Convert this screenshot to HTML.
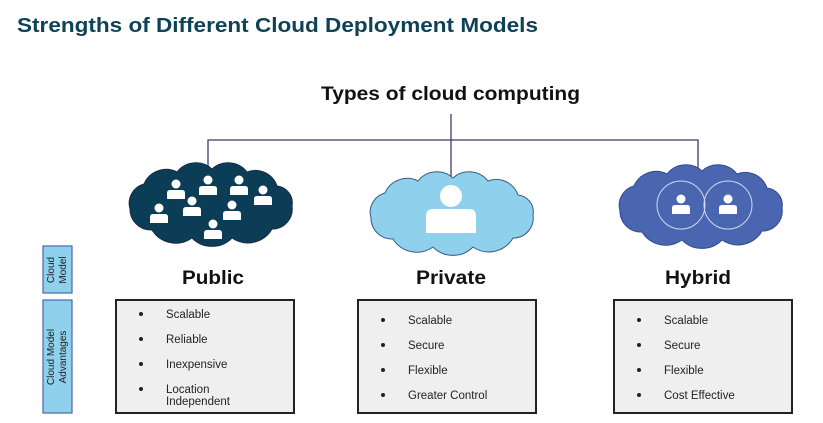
<!DOCTYPE html>
<html><head><meta charset="utf-8"><style>
body{margin:0;background:#fff;}
svg{display:block;font-family:"Liberation Sans",sans-serif;}
</style></head><body>
<svg width="823" height="423" viewBox="0 0 823 423">
<defs>
<path id="cs" d="M8,45 A20,20 0 0 1 22,20 A24,24 0 0 1 55,8 A24,24 0 0 1 90,5 A24,24 0 0 1 125,8 A23,23 0 0 1 155,22 A17,17 0 0 1 170,42 A20,20 0 0 1 150,65 A28,28 0 0 1 110,74 A28,28 0 0 1 70,74 A28,28 0 0 1 30,66 A21,21 0 0 1 8,45 Z"/>
<g id="person"><circle cx="0" cy="-6" r="4.5" fill="#fff"/><path d="M-9,9 L-9,3 Q-9,0 -6,0 L6,0 Q9,0 9,3 L9,9 Z" fill="#fff"/></g>
</defs>
<text x="17" y="32" font-size="20" font-weight="bold" fill="#0f4259" textLength="521" lengthAdjust="spacingAndGlyphs">Strengths of Different Cloud Deployment Models</text>
<text x="321" y="100" font-size="19" font-weight="bold" fill="#111" textLength="259" lengthAdjust="spacingAndGlyphs">Types of cloud computing</text>
<g stroke="#3a3a6a" stroke-width="1.3" fill="none">
<path d="M451,114 V180"/><path d="M208,172 V140 H698 V170"/>
</g>
<!-- public -->
<g transform="translate(122,164)"><use href="#cs" fill="#0b3d57" stroke="#1a2a44" stroke-width="1"/></g>
<use href="#person" x="176" y="190"/><use href="#person" x="208" y="186"/><use href="#person" x="239" y="186"/><use href="#person" x="263" y="196"/><use href="#person" x="159" y="214"/><use href="#person" x="192" y="207"/><use href="#person" x="232" y="211"/><use href="#person" x="213" y="230"/>
<!-- private -->
<g transform="translate(363,173)"><use href="#cs" fill="#8fd0ec" stroke="#3a5a80" stroke-width="1"/></g>
<circle cx="451" cy="196" r="11" fill="#fff"/>
<path d="M426,233 V216 Q426,209 433,209 L469,209 Q476,209 476,216 V233 Z" fill="#fff"/>
<!-- hybrid -->
<g transform="translate(612,166)"><use href="#cs" fill="#4a66b0" stroke="#2f4a8e" stroke-width="1"/></g>
<circle cx="681" cy="205" r="24" fill="none" stroke="#d0d8f0" stroke-width="1"/>
<circle cx="728" cy="205" r="24" fill="none" stroke="#d0d8f0" stroke-width="1"/>
<use href="#person" x="681" y="205"/><use href="#person" x="728" y="205"/>
<!-- side labels -->
<rect x="43" y="246" width="29" height="47" fill="#8fd0ec" stroke="#4a66b0" stroke-width="1.2"/>
<rect x="43" y="300" width="29" height="113" fill="#8fd0ec" stroke="#4a66b0" stroke-width="1.2"/>
<g font-size="10" fill="#222" text-anchor="middle">
<text transform="translate(54,270) rotate(-90)">Cloud</text>
<text transform="translate(66,270) rotate(-90)">Model</text>
<text transform="translate(54,357) rotate(-90)">Cloud Model</text>
<text transform="translate(66,357) rotate(-90)">Advantages</text>
</g>
<g font-size="19" font-weight="bold" fill="#111">
<text x="182" y="284" textLength="62" lengthAdjust="spacingAndGlyphs">Public</text>
<text x="416" y="284" textLength="70" lengthAdjust="spacingAndGlyphs">Private</text>
<text x="665" y="284" textLength="66" lengthAdjust="spacingAndGlyphs">Hybrid</text>
</g>
<g fill="#efefef" stroke="#222" stroke-width="2">
<rect x="116" y="300" width="178" height="113"/><rect x="358" y="300" width="178" height="113"/><rect x="614" y="300" width="178" height="113"/>
</g>
<g font-size="11.5" fill="#222">
<g><circle cx="141" cy="314" r="2"/><text x="166" y="318">Scalable</text>
<circle cx="141" cy="339" r="2"/><text x="166" y="343">Reliable</text>
<circle cx="141" cy="364" r="2"/><text x="166" y="368">Inexpensive</text>
<circle cx="141" cy="389" r="2"/><text x="166" y="393">Location</text><text x="166" y="405">Independent</text></g>
<g><circle cx="383" cy="320" r="2"/><text x="408" y="324">Scalable</text>
<circle cx="383" cy="345" r="2"/><text x="408" y="349">Secure</text>
<circle cx="383" cy="370" r="2"/><text x="408" y="374">Flexible</text>
<circle cx="383" cy="395" r="2"/><text x="408" y="399">Greater Control</text></g>
<g><circle cx="639" cy="320" r="2"/><text x="664" y="324">Scalable</text>
<circle cx="639" cy="345" r="2"/><text x="664" y="349">Secure</text>
<circle cx="639" cy="370" r="2"/><text x="664" y="374">Flexible</text>
<circle cx="639" cy="395" r="2"/><text x="664" y="399">Cost Effective</text></g>
</g>
</svg>
</body></html>
